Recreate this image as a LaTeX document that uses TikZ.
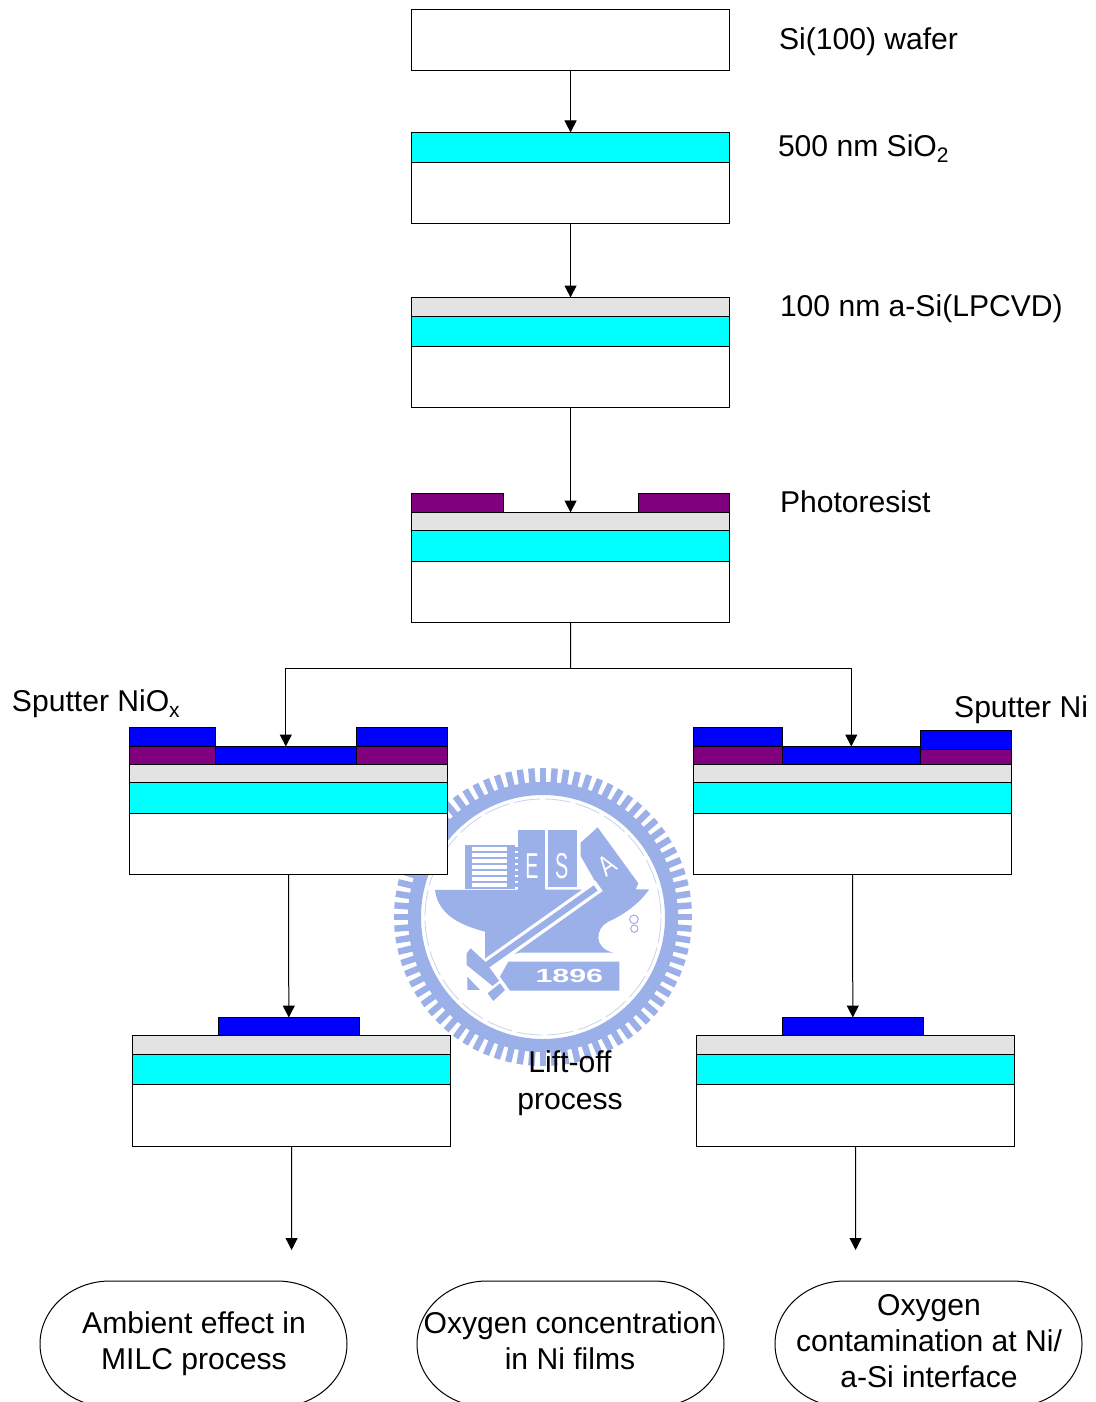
\documentclass[tikz,border=0pt]{standalone}
\usepackage{fontspec}
\setmainfont{Liberation Sans}
\usetikzlibrary{arrows.meta}
\definecolor{wm}{RGB}{155,175,232}
\definecolor{siox}{RGB}{0,255,255}
\definecolor{asi}{RGB}{227,227,227}
\definecolor{pr}{RGB}{128,0,128}
\definecolor{ni}{RGB}{0,0,255}
\tikzset{
  layer/.style={draw=black,line width=1pt,inner sep=0pt,outer sep=0pt,anchor=north west,rectangle},
  flow/.style={draw=black,line width=1pt,-{Triangle[length=12pt,width=12pt]}},
  plain/.style={draw=black,line width=1pt},
  lab/.style={font=\fontsize{30.1}{36}\selectfont,inner sep=0pt,outer sep=0pt,align=center},
  wmtext/.style={text=white,inner sep=0pt},
}
\newcommand{\lay}[6]{\node[layer,fill=#6,minimum width=#4pt,minimum height=#5pt] (#1) at (#2+0.3,#3+0.5) {};}
\newcommand{\subs}[1]{\raisebox{-6pt}{\fontsize{21}{21}\selectfont #1}}
\begin{document}
\begin{tikzpicture}[x=1pt,y=-1pt]
\clip (0,0) rectangle (1095,1402);
\fill[white] (0,0) rectangle (1095,1402);
% watermark
\begin{scope}[shift={(543,917)}]
  \foreach \a in {0,4.5,...,355.5} {
    \draw[wm,line width=6.4pt] (\a:130) -- (\a:149);
  }
  \fill[wm,even odd rule] (0,0) circle (135) (0,0) circle (122);
  \draw[wm!55,line width=.8pt,dash pattern=on 26pt off 5pt] (0,0) circle (118);
\end{scope}
\begin{scope}[shift={(450,820)},x=0.3333pt,y=-0.3333pt]
  % anvil
  \fill[wm] (-45,210) -- (597,208) .. controls (570,250) and (520,285) .. (475,305)
     .. controls (435,325) and (430,385) .. (490,398) -- (210,398) -- (105,420) -- (105,335)
     .. controls (30,315) and (-35,285) .. (-45,210) -- cycle;
  % books
  \fill[wm] (45,75) rectangle (195,207);
  \foreach \yy in {82,100,118,136,154,172,190} {
    \fill[white] (67,\yy) rectangle (170,\yy+11);
  }
  \foreach \yy in {82,100,118,136,154,172,190} {
    \fill[wm] (192,\yy) rectangle (208,\yy+10);
  }
  \fill[wm] (205,30) rectangle (285,212);
  \fill[wm] (295,30) rectangle (382,200);
  \fill[wm] (392,68) -- (443,22) -- (565,190) -- (540,250) -- (450,215) -- (432,178) -- (392,108) -- cycle;
  \node[wmtext] (wmE) at (246,139) {\fontsize{36}{36}\selectfont\scalebox{.55}[1]{E}};
  \node[wmtext] (wmS) at (335,138) {\fontsize{36}{36}\selectfont\scalebox{.55}[1]{S}};
  \node[wmtext,rotate=35] (wmA) at (470,135) {\fontsize{28}{28}\selectfont\scalebox{.8}[1]{A}};
  % banner
  \fill[wm] (175,425) -- (508,425) -- (508,512) -- (180,512) -- (150,470) -- cycle;
  \node[wmtext] (wmY) at (358,467) {\bfseries\fontsize{19}{19}\selectfont\scalebox{1.6}[1]{1896}};
  % hammer
  \draw[white,line width=13pt] (447,197) -- (112,435);
  \draw[wm,line width=6.5pt] (437,204) -- (90,450);
  \fill[wm] (50,400) -- (62,385) -- (105,425) -- (125,452) -- (147,482) -- (128,498) -- (50,435) -- cycle;
  \fill[wm] (52,470) -- (52,510) -- (90,510) -- cycle;
  \fill[wm] (113,520) -- (150,490) -- (165,510) -- (130,543) -- cycle;
  \draw[wm,line width=1pt] (552,298) circle (13);
  \draw[wm,line width=1pt] (553,326) circle (11);
\end{scope}
% stack 1
\lay{aw}{411}{9.4}{318.5}{61}{white}
% stack 2
\lay{bw}{411}{162}{318.5}{61}{white}
\lay{bc}{411}{132}{318.5}{30}{siox}
% stack 3
\lay{cw}{411}{346}{318.5}{61}{white}
\lay{cc}{411}{316}{318.5}{30}{siox}
\lay{cg}{411}{297}{318.5}{19}{asi}
% stack 4
\lay{dw}{411}{561}{318.5}{61}{white}
\lay{dc}{411}{530}{318.5}{31}{siox}
\lay{dg}{411}{512}{318.5}{18}{asi}
\lay{dpl}{411}{493}{92}{19}{pr}
\lay{dpr}{638}{493}{91.5}{19}{pr}
% left stack
\lay{ew}{129}{813}{318.5}{61}{white}
\lay{ec}{129}{782}{318.5}{31}{siox}
\lay{eg}{129}{764}{318.5}{18}{asi}
\lay{epl}{129}{746}{86}{18}{pr}
\lay{epr}{356}{746}{91.5}{18}{pr}
\lay{em}{215}{746}{141}{18}{ni}
\lay{ebl}{129}{727}{86}{19}{ni}
\lay{ebr}{356}{727}{91.5}{19}{ni}
% right stack
\lay{fw}{693}{813}{318.5}{61}{white}
\lay{fc}{693}{782}{318.5}{31}{siox}
\lay{fg}{693}{764}{318.5}{18}{asi}
\lay{fpl}{693}{746}{89}{18}{pr}
\lay{fpr}{920}{749}{91.5}{15}{pr}
\lay{fm}{782}{746}{138}{18}{ni}
\lay{fbl}{693}{727}{89}{19}{ni}
\lay{fbr}{920}{730}{91.5}{19}{ni}
% lower left
\lay{gw}{132}{1084}{318.5}{61.5}{white}
\lay{gc}{132}{1054}{318.5}{30}{siox}
\lay{gg}{132}{1035}{318.5}{19}{asi}
\lay{gb}{218}{1017}{141}{18}{ni}
% lower right
\lay{hw}{696}{1084}{318.5}{61.5}{white}
\lay{hc}{696}{1054}{318.5}{30}{siox}
\lay{hg}{696}{1035}{318.5}{19}{asi}
\lay{hb}{782}{1017}{141}{18}{ni}
% connectors
\coordinate (j) at (570.5,668);
\coordinate (gend) at (291.6,1250);
\coordinate (hend) at (855.6,1250);
\draw[flow] (aw.south) -- (bc.north);
\draw[flow] (bw.south) -- (cg.north);
\draw[flow] (cw.south) -- (dg.north);
\draw[plain] (dw.south) -- (j);
\draw[flow] (j) -| (em.north);
\draw[flow] (j) -| (fm.north);
\draw[flow] (ew.south) -- (gb.north);
\draw[flow] (fw.south) -- (hb.north);
\draw[flow] (gw.south) -- (gend);
\draw[flow] (hw.south) -- (hend);
% terminators
\foreach \xa/\xb in {40/347,417/724,775/1082} {
  \draw[plain] (\xa+70,1281) -- (\xb-70,1281)
     arc[start angle=-90,end angle=90,x radius=70,y radius=63]
     -- (\xa+70,1407)
     arc[start angle=90,end angle=270,x radius=70,y radius=63] -- cycle;
}
% labels
\node[lab,anchor=base west] (t1) at (779,50) {Si(100) wafer};
\node[lab,anchor=base west] (t2) at (778,156) {500 nm SiO\subs{2}};
\node[lab,anchor=base west] (t3) at (780,316) {100 nm a-Si(LPCVD)};
\node[lab,anchor=base west] (t4) at (780,512) {Photoresist};
\node[lab,anchor=base west] (t5) at (12,711) {Sputter NiO\subs{x}};
\node[lab,anchor=base east] (t6) at (1088,717) {Sputter Ni};
\node[lab,anchor=center] (t7) at (570,1083) {Lift-off\\[1pt]process};
\node[lab,anchor=center] (t8) at (194,1344) {Ambient effect in\\MILC process};
\node[lab,anchor=center] (t9) at (570,1341) {Oxygen concentration\\in Ni films};
\node[lab,anchor=center] (t10) at (929,1341) {Oxygen\\contamination at Ni/\\a-Si interface};
\end{tikzpicture}
\end{document}
